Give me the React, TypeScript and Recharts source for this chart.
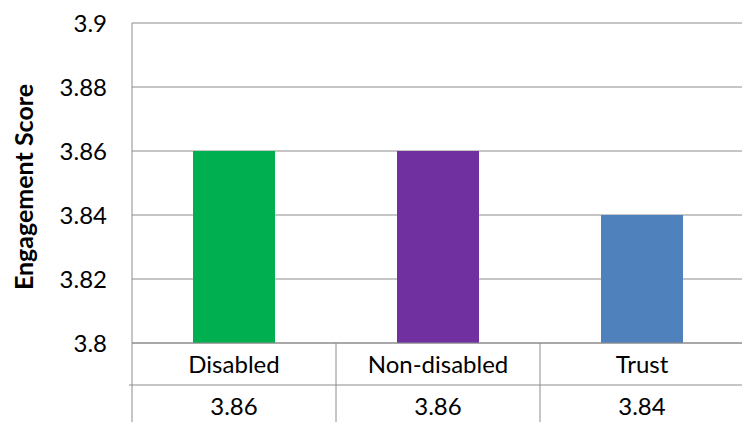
import { Bar, BarChart, CartesianGrid, Cell, Label, XAxis, YAxis } from "recharts";

const categories = ["Disabled", "Non-disabled", "Trust"];
const scores = [3.86, 3.86, 3.84];
const barColors = ["#00B050", "#7030A0", "#4F81BD"];
const yTicks = [3.8, 3.82, 3.84, 3.86, 3.88, 3.9];

const data = categories.map((name, i) => ({ name, score: scores[i] }));

const W = 746;
const H = 422;
const LEFT = 132;
const TOP = 23;
const TABLE_H = 79;
const ROW_H = 42;
const GRID = "#8c8c8c";
const FONT = "Lato, 'Open Sans', sans-serif";
const BAND = (W - 2 - LEFT) / categories.length;

// category label + value row drawn as a small data table under the plot
function TableTick(props: any) {
  const { x, y, payload, index } = props;
  const left = x - BAND / 2;
  const right = x + BAND / 2;
  return (
    <g>
      <text x={x} y={y + 21} dy="0.355em" textAnchor="middle" fontSize={24} fill="#000" fontFamily={FONT}>
        {payload.value}
      </text>
      <text x={x} y={y + 63} dy="0.355em" textAnchor="middle" fontSize={24} fill="#000" fontFamily={FONT}>
        {scores[index].toFixed(2)}
      </text>
      <line x1={index === 0 ? left - 3 : left} x2={right} y1={y + ROW_H} y2={y + ROW_H} stroke={GRID} />
      <line x1={right} x2={right} y1={y} y2={y + TABLE_H} stroke={GRID} />
      {index === 0 && <line x1={left} x2={left} y1={y} y2={y + TABLE_H} stroke={GRID} />}
    </g>
  );
}

export default function App() {
  return (
    <div style={{ position: "absolute", left: 0, top: 0, width: 742, height: H, overflow: "hidden", background: "#fff" }}>
      <BarChart width={W} height={H} data={data} margin={{ top: TOP, right: 2, left: 0, bottom: 0 }}>
        <CartesianGrid vertical={false} stroke={GRID} />
        <XAxis
          dataKey="name"
          height={TABLE_H}
          interval={0}
          tickLine={false}
          tickSize={0}
          tickMargin={0}
          axisLine={{ stroke: GRID }}
          tick={<TableTick />}
        />
        <YAxis
          width={LEFT}
          domain={[3.8, 3.9]}
          ticks={yTicks}
          tickLine={false}
          tickSize={0}
          tickMargin={25}
          axisLine={{ stroke: GRID }}
          tick={{ fontSize: 24, fill: "#000", fontFamily: FONT }}
        >
          <Label
            content={(p: any) => {
              const cy = p.viewBox.y + p.viewBox.height / 2 + 4;
              return (
                <text
                  x={23}
                  y={cy}
                  transform={`rotate(-90 23 ${cy})`}
                  textAnchor="middle"
                  dominantBaseline="central"
                  fontSize={25}
                  fontWeight="bold"
                  fontFamily={FONT}
                  fill="#000"
                >
                  Engagement Score
                </text>
              );
            }}
          />
        </YAxis>
        <Bar dataKey="score" barSize={82} isAnimationActive={false}>
          {data.map((d, i) => (
            <Cell key={d.name} fill={barColors[i]} />
          ))}
        </Bar>
      </BarChart>
    </div>
  );
}
